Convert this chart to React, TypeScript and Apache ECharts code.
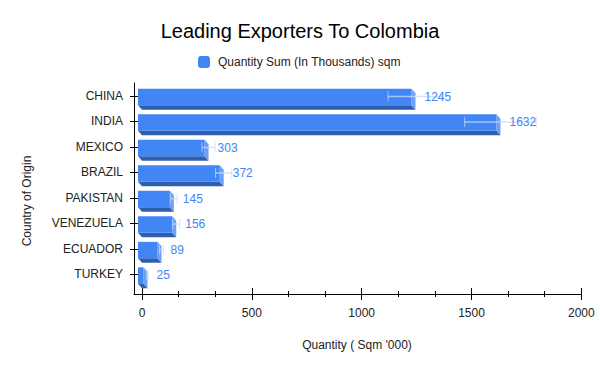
import { useEffect, useRef } from "react";
import * as echarts from "echarts";

const categories = ["CHINA", "INDIA", "MEXICO", "BRAZIL", "PAKISTAN", "VENEZUELA", "ECUADOR", "TURKEY"];
const values = [1245, 1632, 303, 372, 145, 156, 89, 25];
const errors = [125, 163, 30, 37, 15, 16, 9, 3];
const xMajorTicks = [0, 500, 1000, 1500, 2000];
const xMinorTicks = [166.67, 333.33, 666.67, 833.33, 1166.67, 1333.33, 1666.67, 1833.33];
const seriesName = "Quantity Sum (In Thousands) sqm";
const titleText = "Leading Exporters To Colombia";
const xAxisName = "Quantity ( Sqm '000)";
const yAxisName = "Country of Origin";

const FONT = "'Liberation Sans', Arial, sans-serif";
const X_MIN = -36.4;
const X_MAX = 2000;
const Y_MIN = -0.5;
const Y_MAX = 7.77;

export default function App() {
  const ref = useRef<HTMLDivElement>(null);
  useEffect(() => {
    if (!ref.current) return;
    const chart = echarts.init(ref.current, undefined, { renderer: "svg" });
    const catIdx = categories.map((_, i) => i);
    const data = values.map((v, i) => [v, i, errors[i]]);

    const baseX = { type: "value", position: "bottom", min: X_MIN, max: X_MAX, splitLine: { show: false } };
    const baseY = { type: "value", position: "left", min: Y_MIN, max: Y_MAX, inverse: true, splitLine: { show: false } };

    chart.setOption({
      animation: false,
      backgroundColor: "#ffffff",
      textStyle: { fontFamily: FONT },
      title: {
        text: titleText,
        left: "center",
        top: 21,
        padding: 0,
        textStyle: { fontSize: 20, fontWeight: "normal", color: "#000", fontFamily: FONT },
      },
      legend: {
        data: [{ name: seriesName, icon: "roundRect" }],
        left: 198,
        top: 56,
        padding: 0,
        itemWidth: 12,
        itemHeight: 12,
        itemGap: 5,
        textStyle: { fontSize: 12, color: "#222", fontFamily: FONT, padding: [0, 0, 0, 3] },
      },
      grid: { left: 134, right: 18.7, top: 83, bottom: 77, containLabel: false },
      xAxis: [
        {
          ...baseX,
          axisLine: { show: true, onZero: false, lineStyle: { color: "#000", width: 1 } },
          axisTick: { show: false },
          axisLabel: {
            customValues: xMajorTicks,
            margin: 13,
            fontSize: 12,
            color: "#222",
            fontFamily: FONT,
            formatter: (v: number) => String(v),
          },
        },
        {
          ...baseX,
          offset: -6,
          axisLine: { show: false, onZero: false },
          axisLabel: { show: false },
          axisTick: { show: true, customValues: xMajorTicks, length: 12, lineStyle: { color: "#000" } },
        },
        {
          ...baseX,
          offset: -3,
          axisLine: { show: false, onZero: false },
          axisLabel: { show: false },
          axisTick: { show: true, customValues: xMinorTicks, length: 6, lineStyle: { color: "#000" } },
        },
      ],
      yAxis: [
        {
          ...baseY,
          axisLine: { show: true, onZero: false, lineStyle: { color: "#000", width: 1 } },
          axisTick: { show: false },
          axisLabel: {
            customValues: catIdx,
            margin: 11,
            fontSize: 12,
            color: "#222",
            fontFamily: FONT,
            formatter: (v: number) => categories[Math.round(v)] ?? "",
          },
        },
        {
          ...baseY,
          offset: -6,
          axisLine: { show: false, onZero: false },
          axisLabel: { show: false },
          axisTick: { show: true, customValues: catIdx, length: 10, lineStyle: { color: "#000" } },
        },
      ],
      graphic: [
        {
          type: "text",
          x: 357,
          y: 345,
          style: { text: xAxisName, fontSize: 12, fill: "#222", fontFamily: FONT, align: "center", verticalAlign: "middle" },
        },
        {
          type: "text",
          x: 27,
          y: 201,
          rotation: Math.PI / 2,
          style: { text: yAxisName, fontSize: 12, fill: "#222", fontFamily: FONT, align: "center", verticalAlign: "middle" },
        },
      ],
      series: [
        {
          type: "custom",
          name: seriesName,
          xAxisIndex: 0,
          yAxisIndex: 0,
          clip: false,
          itemStyle: { color: "#4285f4" },
          encode: { x: 0, y: 1 },
          data,
          renderItem: (_params: any, api: any) => {
            const v = api.value(0);
            const i = api.value(1);
            const e = api.value(2);
            const p0 = api.coord([0, i]);
            const pv = api.coord([v, i]);
            const pl = api.coord([v - e, i]);
            const pr = api.coord([v + e, i]);
            const c = pv[1];
            const x0 = p0[0];
            const xv = pv[0];
            const dx = 4;
            const dy = 4.5;
            const top = c - 7;
            const bot = c + 9.5;
            const ey = c + 0.7;
            const errColor = "rgba(200,218,252,0.75)";
            return {
              type: "group",
              children: [
                {
                  type: "polygon",
                  shape: { points: [[x0 - dx, bot], [xv - dx, bot], [xv, bot + dy], [x0, bot + dy]] },
                  style: { fill: "#2e5eae" },
                },
                {
                  type: "polygon",
                  shape: { points: [[xv - dx, top], [xv, top + dy], [xv, bot + dy], [xv - dx, bot]] },
                  style: { fill: "#6c9ff6" },
                },
                {
                  type: "rect",
                  shape: { x: x0 - dx, y: top, width: Math.max(0, xv - x0), height: bot - top },
                  style: { fill: "#4285f4" },
                },
                {
                  type: "line",
                  shape: { x1: pl[0], y1: ey, x2: pr[0], y2: ey },
                  style: { stroke: errColor, lineWidth: 1.5 },
                },
                {
                  type: "line",
                  shape: { x1: pl[0], y1: ey - 5, x2: pl[0], y2: ey + 5 },
                  style: { stroke: errColor, lineWidth: 1 },
                },
                {
                  type: "line",
                  shape: { x1: pr[0], y1: ey - 5, x2: pr[0], y2: ey + 5 },
                  style: { stroke: errColor, lineWidth: 1 },
                },
                {
                  type: "text",
                  x: xv + 9,
                  y: c + 1,
                  style: {
                    text: String(v),
                    fill: "#4285f4",
                    fontSize: 12,
                    fontFamily: FONT,
                    align: "left",
                    verticalAlign: "middle",
                  },
                },
              ],
            };
          },
        },
      ],
    });
    return () => chart.dispose();
  }, []);
  return <div ref={ref} style={{ position: "absolute", left: 0, top: 0, width: 600, height: 371 }} />;
}
